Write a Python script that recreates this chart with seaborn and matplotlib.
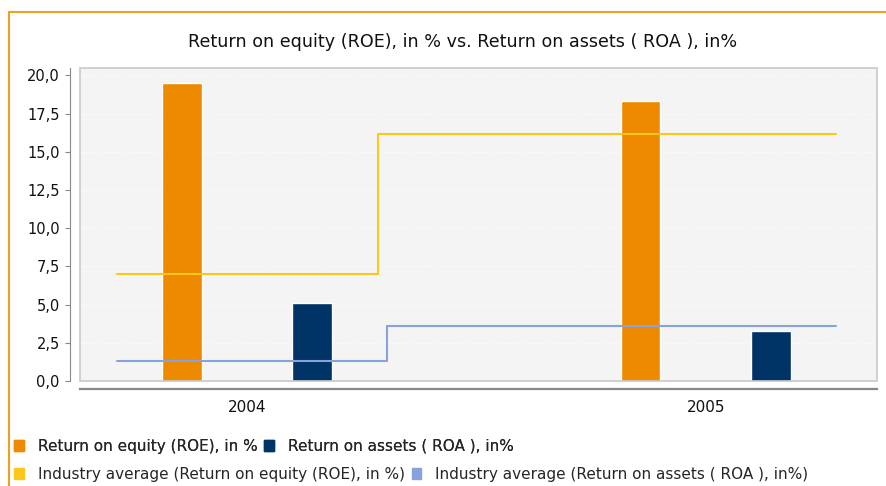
"""
ROE vs ROA bar chart with industry average step lines
"""

import pandas as pd
import matplotlib.pyplot as plt
import seaborn as sns
from matplotlib.patches import Patch, Rectangle

# data
years = ['2004', '2005']
roe = [19.5, 18.3]
roa = [5.1, 3.3]
ind_roe = [7.0, 16.2]
ind_roa = [1.3, 3.6]
y_ticks = [0.0, 2.5, 5.0, 7.5, 10.0, 12.5, 15.0, 17.5, 20.0]

lbl_roe = 'Return on equity (ROE), in %'
lbl_roa = 'Return on assets ( ROA ), in%'
lbl_ind_roe = 'Industry average (Return on equity (ROE), in %)'
lbl_ind_roa = 'Industry average (Return on assets ( ROA ), in%)'

c_roe = '#EE8A00'
c_roa = '#003366'
c_ind_roe = '#FFC61A'
c_ind_roa = '#8AA2DC'


def plot_chart():
    df = pd.DataFrame({
        'year': years * 2,
        'value': roe + roa,
        'series': [lbl_roe] * 2 + [lbl_roa] * 2,
    })

    sns.set_style('white')
    plt.rcParams['font.family'] = ['DejaVu Sans']

    fig = plt.figure(figsize=(8.86, 4.86), dpi=100)
    ax = fig.add_axes([80 / 886, 1 - 381 / 486, 797 / 886, 313 / 486])
    ax.set_facecolor('#F4F4F4')

    sns.barplot(data=df, x='year', y='value', hue='series',
                palette=[c_roe, c_roa], width=0.57, gap=0.695,
                saturation=1, legend=False, ax=ax, zorder=3)

    # industry average step lines (half-width 0.283 around each category)
    xs = range(len(years))
    ax.step([xs[0] - 0.283, xs[0] + 0.285, xs[1] + 0.283],
            [ind_roe[0], ind_roe[1], ind_roe[1]], where='post',
            color=c_ind_roe, lw=1.5, zorder=4)
    ax.step([xs[0] - 0.283, xs[0] + 0.305, xs[1] + 0.283],
            [ind_roa[0], ind_roa[1], ind_roa[1]], where='post',
            color=c_ind_roa, lw=1.5, zorder=4)

    ax.axhline(0, color='#7F7FD8', lw=0.8, ls=(0, (3, 2)), zorder=5)

    ax.set_xlim(-0.364, 1.373)
    ax.set_ylim(0, 20.49)
    ax.set_yticks(y_ticks)
    ax.set_yticklabels([f'{t:.1f}'.replace('.', ',') for t in y_ticks])
    ax.set_xlabel('')
    ax.set_ylabel('')
    ax.yaxis.grid(True, color='white', ls=':', lw=0.8)
    ax.set_axisbelow(True)

    for s in ['top', 'right']:
        ax.spines[s].set_visible(False)
    ax.spines['left'].set_position(('outward', 7))
    ax.spines['left'].set_color('#888888')
    ax.spines['left'].set_bounds(0, 20.49)
    ax.spines['bottom'].set_position(('outward', 6))
    ax.spines['bottom'].set_color('#888888')
    ax.spines['bottom'].set_linewidth(1.6)

    ax.tick_params(axis='y', left=True, length=3.6, color='#888888',
                   labelsize=10.5, labelcolor='#111111', pad=4)
    ax.tick_params(axis='x', bottom=False, labelsize=11,
                   labelcolor='#111111', pad=4)

    # light gray frame around the plot area
    ax.add_patch(Rectangle((0, 0), 1, 1, transform=ax.transAxes, fill=False,
                           edgecolor='#C8C8C8', lw=1.2, zorder=6,
                           clip_on=False))

    fig.text(463 / 886, 1 - 42 / 486,
             'Return on equity (ROE), in % vs. Return on assets ( ROA ), in%',
             ha='center', va='center', fontsize=12.6, color='#111111')

    # orange outer frame
    fig.add_artist(plt.Line2D([9 / 886, 9 / 886], [0, 1 - 12 / 486],
                              transform=fig.transFigure, color='#F0A020',
                              lw=1.5))
    fig.add_artist(plt.Line2D([9 / 886, 1], [1 - 12 / 486, 1 - 12 / 486],
                              transform=fig.transFigure, color='#F0A020',
                              lw=1.5))

    leg_kw = dict(frameon=False, fontsize=11,
                  handlelength=0.65, handleheight=0.7, handletextpad=0.9,
                  columnspacing=0.45, borderaxespad=0, borderpad=0,
                  loc='center left')
    leg1 = fig.legend(handles=[Patch(color=c_roe, label=lbl_roe),
                               Patch(color=c_roa, label=lbl_roa)],
                      ncol=2, bbox_to_anchor=(14 / 886, 1 - 446 / 486),
                      **leg_kw)
    fig.add_artist(leg1)
    fig.legend(handles=[Patch(color=c_ind_roe, label=lbl_ind_roe),
                        Patch(color=c_ind_roa, label=lbl_ind_roa)],
               ncol=2, bbox_to_anchor=(14 / 886, 1 - 474 / 486), **leg_kw)

    fig.savefig('out.png', dpi=100)


if __name__ == '__main__':
    plot_chart()
